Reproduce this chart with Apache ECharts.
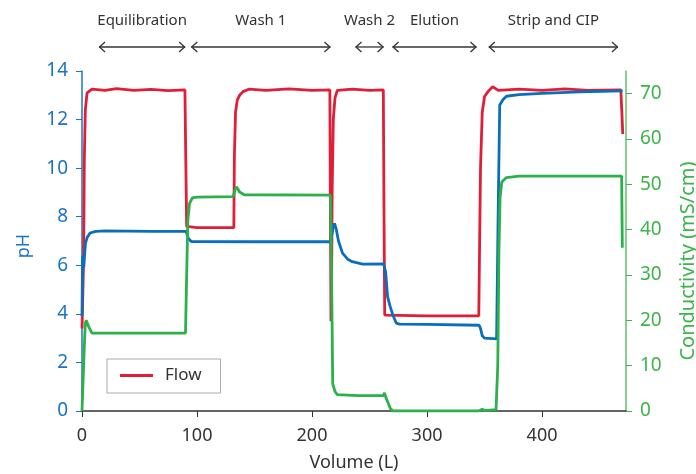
<!DOCTYPE html>
<html>
<head>
<meta charset="utf-8">
<script src="https://cdn.jsdelivr.net/npm/echarts@6/dist/echarts.min.js"></script>
<style>html,body{margin:0;padding:0;background:#fff;}#c{width:696px;height:474px;}</style>
</head>
<body>
<div id="c"></div>
<script>
// ---- Data ----
const xTickValues = [0, 100, 200, 300, 400];
const phTickValues = [0, 2, 4, 6, 8, 10, 12, 14];
const condTickValues = [0, 10, 20, 30, 40, 50, 60, 70];

const phaseNames = ['Equilibration', 'Wash 1', 'Wash 2', 'Elution', 'Strip and CIP'];
const phaseStart = [14.8, 95, 237.8, 270, 353.7];
const phaseEnd = [89.7, 216, 262.2, 343, 466];

// Flow (red), plotted on the pH scale
const flowData = [
  [0, 3.4], [1.4, 6.2], [2, 10.3], [2.9, 12.4], [4.4, 13.1], [8.7, 13.25],
  [20, 13.2], [30, 13.27], [45, 13.2], [60, 13.24], [75, 13.19], [89.5, 13.22],
  [90.2, 10.5], [91, 7.6], [100, 7.55], [120, 7.55], [132, 7.55],
  [132.5, 10.5], [133.5, 12.3], [135, 12.8], [137, 13.0], [140, 13.15], [145, 13.25],
  [160, 13.2], [180, 13.26], [200, 13.2], [215.5, 13.22],
  [216, 8], [216.5, 3.7], [217, 5], [217.5, 9], [218.5, 12], [220, 12.9], [222, 13.2],
  [235, 13.25], [250, 13.2], [262, 13.22],
  [262.6, 8], [263.2, 3.95], [300, 3.92], [345, 3.92],
  [345.5, 6], [346.5, 10], [348, 12.3], [350, 12.95], [353, 13.15], [357, 13.35],
  [362, 13.2], [380, 13.25], [400, 13.2], [420, 13.26], [440, 13.2], [468.5, 13.22],
  [469.3, 12.4], [470.2, 11.4]
];

// pH (blue)
const phData = [
  [0, 3.9], [0.5, 6.4], [1.5, 5.9], [3, 6.9], [4.5, 7.15], [7, 7.33], [12, 7.4],
  [20, 7.42], [60, 7.4], [90.5, 7.4], [92.5, 7.1], [95, 6.98],
  [150, 6.97], [216, 6.97], [217, 7.2], [218.5, 7.6], [219.6, 7.72], [221, 7.5],
  [223, 7.0], [226.5, 6.5], [231, 6.25], [235, 6.15], [244, 6.05], [262.2, 6.06],
  [264, 5.73], [265.7, 4.7], [268, 4.3], [270.3, 3.95], [273.2, 3.62], [276, 3.58],
  [300, 3.57], [345.3, 3.53], [346.5, 3.4], [348, 3.1], [350, 3.0], [360.5, 2.97],
  [361.8, 8], [363.2, 12.6], [366, 12.82], [369, 12.96], [380, 13.03], [400, 13.08],
  [433, 13.14], [470, 13.18]
];

// Conductivity (green), mS/cm
const condData = [
  [0, 0], [2, 14.2], [2.9, 19.4], [3.7, 20], [5.8, 18.6], [8.7, 17.2], [50, 17.2],
  [90, 17.2], [91, 30], [92, 42], [93.5, 45.8], [96, 47], [100, 47.2], [131.5, 47.3],
  [133, 48.8], [134.5, 49.4], [137, 48.3], [141, 47.7], [216, 47.6],
  [217, 30], [218, 6], [220, 4.3], [222, 3.6], [240, 3.4], [262, 3.4],
  [263, 4.0], [264.5, 2.8], [268, 0.6], [270.3, 0], [345, 0], [348, 0.4], [350, 0.1],
  [360, 0.3], [361.5, 10], [362.5, 35], [363.5, 47], [365, 50.5], [369, 51.5],
  [380, 51.8], [469.2, 51.8], [469.8, 36]
];

const RED = '#e01e37', BLUE = '#0a6ebd', GREEN = '#2bb04a';
const FONT = '"Noto Sans", sans-serif';

const chart = echarts.init(document.getElementById('c'), null, {renderer: 'canvas'});

const phaseData = phaseNames.map((n, i) => [phaseStart[i], phaseEnd[i], i]);

chart.setOption({
  backgroundColor: '#fff',
  animation: false,
  textStyle: {fontFamily: FONT},
  grid: [
    {left: 82, right: 70, top: 71, bottom: 63, outerBoundsMode: 'none', containLabel: false},
    {left: 82, right: 70, top: 0, height: 60, outerBoundsMode: 'none', containLabel: false}
  ],
  legend: {
    data: ['Flow'],
    left: 107, top: 359,
    icon: 'rect', itemWidth: 33, itemHeight: 3,
    borderColor: '#aaa', borderWidth: 1,
    padding: [8, 19, 9, 13],
    textStyle: {fontSize: 17, color: '#333', fontFamily: FONT, padding: [0, 0, 0, 7]}
  },
  xAxis: [
    {
      type: 'value', gridIndex: 0, min: 0, max: 473,
      name: 'Volume (L)', nameLocation: 'middle', nameGap: 43,
      nameTextStyle: {fontSize: 18, color: '#333', fontFamily: FONT},
      axisLine: {lineStyle: {color: '#333', width: 1.5}},
      axisTick: {show: true, length: 6, lineStyle: {color: '#333'}, customValues: xTickValues},
      axisLabel: {fontSize: 18, color: '#333', margin: 16, fontFamily: FONT, customValues: xTickValues},
      splitLine: {show: false}
    },
    {type: 'value', gridIndex: 1, min: 0, max: 473, show: false}
  ],
  yAxis: [
    {
      type: 'value', gridIndex: 0, min: 0, max: 14, interval: 2,
      name: 'pH', nameLocation: 'middle', nameGap: 49,
      nameTextStyle: {fontSize: 18, color: '#1a74c4', fontFamily: FONT, padding: [0, 10, 0, 0]},
      axisLine: {show: true, lineStyle: {color: '#1a74c4', width: 1.5}},
      axisTick: {show: true, length: 6, lineStyle: {color: '#1a74c4'}},
      axisLabel: {fontSize: 19, color: '#1a74c4', margin: 14, fontFamily: FONT},
      splitLine: {show: false}
    },
    {
      type: 'value', gridIndex: 0, min: 0, max: 75, position: 'right',
      name: 'Conductivity (mS/cm)', nameLocation: 'middle', nameGap: 52,
      nameTextStyle: {fontSize: 20, color: '#3cb54a', fontFamily: FONT, padding: [0, 40, 0, 0]},
      axisLine: {show: true, lineStyle: {color: '#5cc26a', width: 1.5}},
      axisTick: {show: true, length: 6, lineStyle: {color: '#3cb54a'}, customValues: condTickValues},
      axisLabel: {fontSize: 19, color: '#3cb54a', margin: 14, fontFamily: FONT, customValues: condTickValues},
      splitLine: {show: false}
    },
    {type: 'value', gridIndex: 1, min: 0, max: 1, show: false}
  ],
  series: [
    {
      name: 'Flow', type: 'line', xAxisIndex: 0, yAxisIndex: 0,
      data: flowData, showSymbol: false, symbol: 'none',
      lineStyle: {color: RED, width: 2.8}, itemStyle: {color: RED}, z: 2
    },
    {
      name: 'pH', type: 'line', xAxisIndex: 0, yAxisIndex: 0,
      data: phData, showSymbol: false, symbol: 'none',
      lineStyle: {color: BLUE, width: 2.8}, itemStyle: {color: BLUE}, z: 3
    },
    {
      name: 'Conductivity', type: 'line', xAxisIndex: 0, yAxisIndex: 1,
      data: condData, showSymbol: false, symbol: 'none',
      lineStyle: {color: GREEN, width: 2.8}, itemStyle: {color: GREEN}, z: 4
    },
    {
      name: 'phases', type: 'custom', xAxisIndex: 1, yAxisIndex: 2,
      data: phaseData, silent: true, clip: false,
      renderItem: function (params, api) {
        const v0 = api.value(0), v1 = api.value(1), idx = api.value(2);
        const s = api.coord([v0, 0.217]);
        const e = api.coord([v1, 0.217]);
        const t = api.coord([(v0 + v1) / 2, 0.65]);
        const st = {stroke: '#333', lineWidth: 1.3, fill: null};
        return {
          type: 'group',
          children: [
            {type: 'line', shape: {x1: s[0], y1: s[1], x2: e[0], y2: e[1]}, style: st},
            {type: 'polyline', shape: {points: [[s[0] + 6, s[1] - 5], [s[0] + 0.5, s[1]], [s[0] + 6, s[1] + 5]]}, style: st},
            {type: 'polyline', shape: {points: [[e[0] - 6, e[1] - 5], [e[0] - 0.5, e[1]], [e[0] - 6, e[1] + 5]]}, style: st},
            {type: 'text', style: {text: phaseNames[idx], x: t[0], y: t[1], align: 'center', verticalAlign: 'middle',
              font: '15px ' + FONT, fill: '#333'}}
          ]
        };
      }
    }
  ]
});
</script>
</body>
</html>
